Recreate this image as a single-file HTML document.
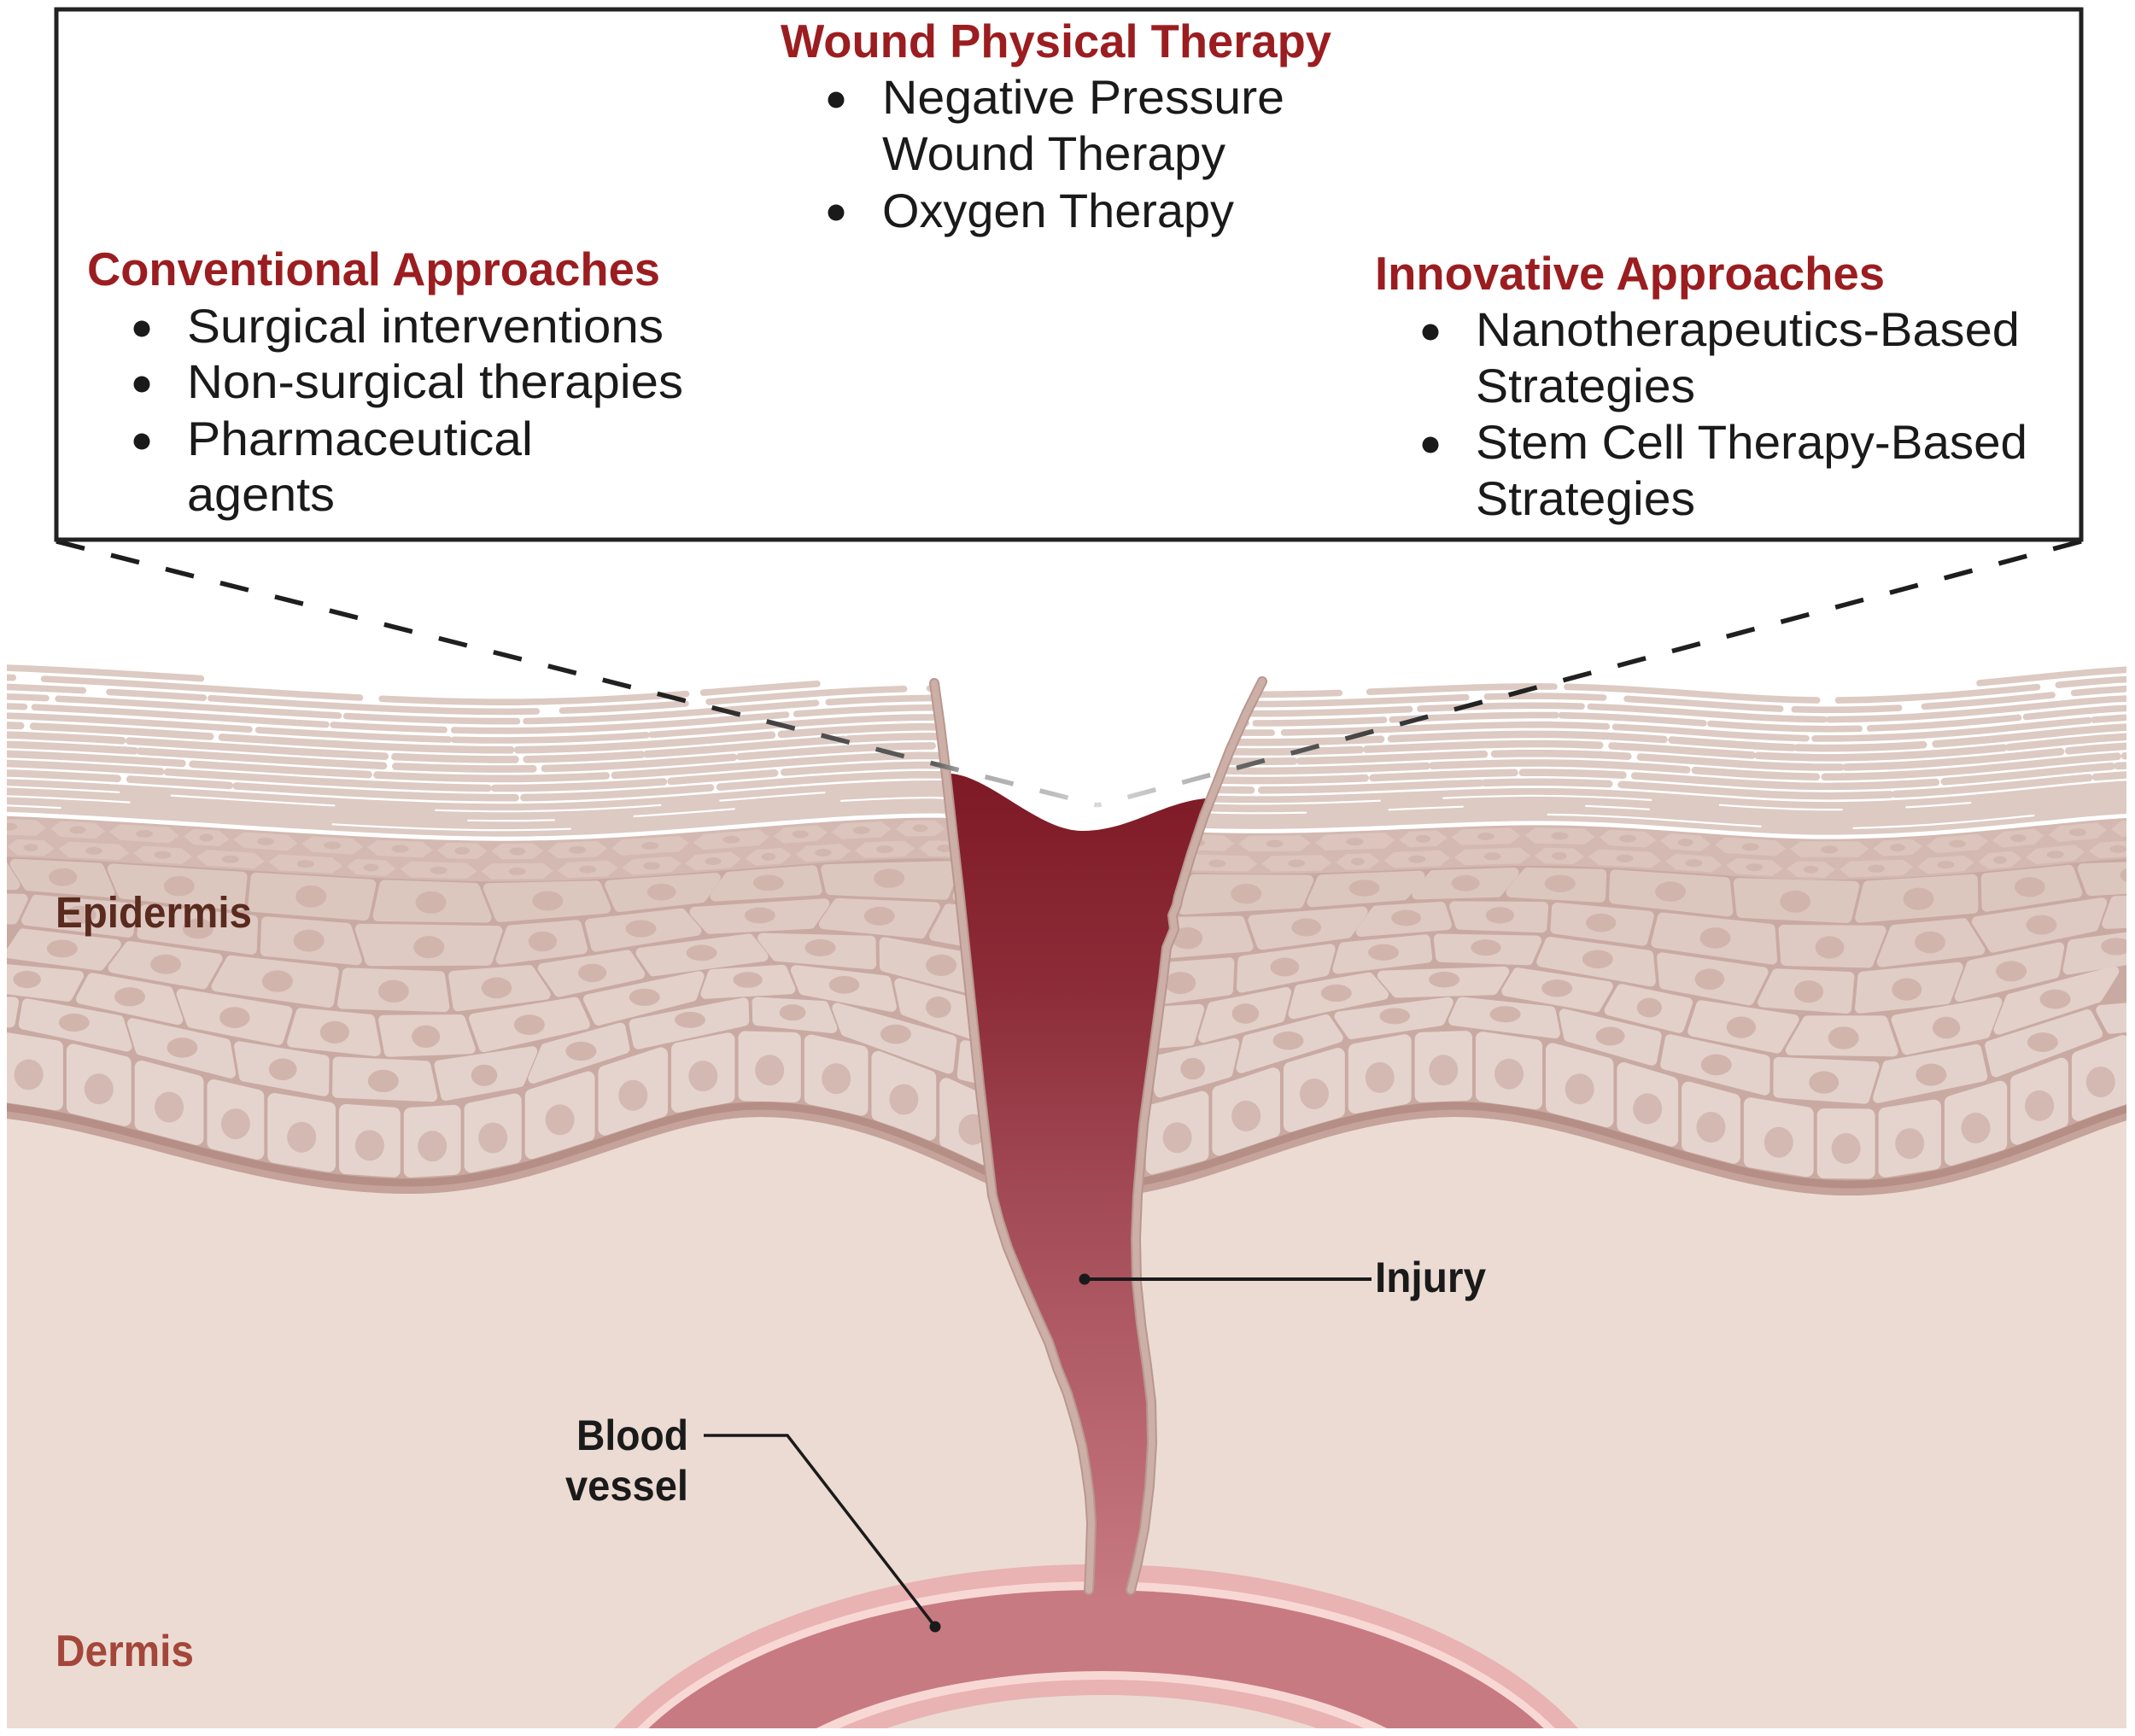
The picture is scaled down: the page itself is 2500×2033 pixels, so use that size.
<!DOCTYPE html>
<html><head><meta charset="utf-8">
<style>
html,body{margin:0;padding:0;background:#fff;width:2500px;height:2033px;overflow:hidden;}
svg{display:block;}
text{font-family:"Liberation Sans",Arial,sans-serif;}
</style></head><body>
<svg id="S" xmlns="http://www.w3.org/2000/svg" width="2500" height="2033" viewBox="0 0 2500 2033" overflow="hidden">
<defs>
 <clipPath id="skin"><rect x="8" y="700" width="2482" height="1324"/></clipPath>
 <linearGradient id="blood" gradientUnits="userSpaceOnUse" x1="0" y1="930" x2="0" y2="1875">
  <stop offset="0" stop-color="#7f1b26"/>
  <stop offset="0.25" stop-color="#8d2d39"/>
  <stop offset="0.5" stop-color="#a24a56"/>
  <stop offset="0.72" stop-color="#b35f69"/>
  <stop offset="1" stop-color="#c77a82"/>
 </linearGradient>
 <linearGradient id="dashL" gradientUnits="userSpaceOnUse" x1="66" y1="0" x2="1285" y2="0">
  <stop offset="0" stop-color="#1c1c1c"/>
  <stop offset="0.62" stop-color="#222"/>
  <stop offset="0.71" stop-color="#4a4a4a"/>
  <stop offset="0.845" stop-color="#5e5e5e"/>
  <stop offset="0.87" stop-color="#a8a8a8"/>
  <stop offset="0.955" stop-color="#bdbdbd"/>
  <stop offset="1" stop-color="#d6d6d6"/>
 </linearGradient>
 <linearGradient id="dashR" gradientUnits="userSpaceOnUse" x1="2437" y1="0" x2="1285" y2="0">
  <stop offset="0" stop-color="#1c1c1c"/>
  <stop offset="0.62" stop-color="#222"/>
  <stop offset="0.73" stop-color="#444"/>
  <stop offset="0.86" stop-color="#666"/>
  <stop offset="0.885" stop-color="#b0b0b0"/>
  <stop offset="1" stop-color="#d8d8d8"/>
 </linearGradient>
</defs>

<path id="pU" fill="none" d="M0,953 C200,960 450,985 620,982 C800,979 950,955 1100,955 L1400,972 C1550,978 1700,962 1820,964 C1950,966 2050,982 2160,980 C2300,978 2420,958 2500,955"/>
<path id="pB" fill="none" d="M0,1309 C150,1325 300,1398 480,1398 C640,1398 760,1308 890,1308 C1000,1308 1090,1355 1170,1392 L1330,1398 C1440,1380 1560,1310 1700,1308 C1850,1306 2000,1398 2160,1400 C2300,1402 2420,1330 2500,1309"/>

<g clip-path="url(#skin)">
 <!-- dermis -->
 <rect x="8" y="1200" width="2482" height="824" fill="#ebdbd3"/>
 <!-- blood vessel (arcs truncated at y=2030) -->
 <path d="M713.9,2030 A629,344 0 0 1 1853.1,2030 Z" fill="#e9b2b3"/>
 <path d="M740.2,2030 A608.6,324 0 0 1 1826.8,2030 Z" fill="#f8d8d5"/>
 <path d="M753.2,2030 A599,314 0 0 1 1813.8,2030 Z" fill="#c77a82"/>
 <path d="M944.4,2030 A450,203 0 0 1 1635.6,2030 Z" fill="#f8d8d5"/>
 <path d="M970,2030 A433,193 0 0 1 1610,2030 Z" fill="#e9b2b3"/>
 <path d="M1022.2,2030 A400,175 0 0 1 1557.8,2030 Z" fill="#ebdbd3"/>

 <!-- epidermis base -->
 <path id="pE" fill="#d8c2ba" d="M0,953 C200,960 450,985 620,982 C800,979 950,955 1100,955 L1400,972 C1550,978 1700,962 1820,964 C1950,966 2050,982 2160,980 C2300,978 2420,958 2500,955 L2500,1309 C2420,1330 2300,1402 2160,1400 C2000,1398 1850,1306 1700,1308 C1560,1310 1440,1380 1330,1398 L1170,1392 C1090,1355 1000,1308 890,1308 C760,1308 640,1398 480,1398 C300,1398 150,1325 0,1309 Z"/>
 <use href="#pU" transform="translate(0,26)" stroke="#d3b9b1" stroke-width="48"/>
 <g id="gCells"></g>
 <!-- basement band -->
 <use href="#pB" transform="translate(0,-9)" stroke="#c5a29a" stroke-width="18"/>
 <use href="#pB" transform="translate(0,-13)" stroke="#b58e86" stroke-width="9"/>

 <!-- stratum corneum -->
 <use id="fbS" href="#pU" transform="translate(0,-100)" stroke="#e7dad4" stroke-width="120"/>
 <use href="#pU" transform="translate(0,-20.5)" stroke="#dccac3" stroke-width="41"/>
 <g id="gStr"></g>
 <use href="#pU" stroke="#ffffff" stroke-width="5"/>

 <!-- wound -->
 <path fill="#ffffff" d="M1088,700 L1094,800 L1101,850 L1108,908 L1114,906 C1160,910 1215,972 1266,973 C1320,974 1360,940 1412,935 L1424,920 L1440,879 L1460,834 L1478,798 L1484,700 Z"/>
 <path fill="url(#blood)" d="M1114,906 C1160,910 1215,972 1266,973 C1320,974 1360,940 1412,935 L1405,955 L1390,1000 L1375,1050 L1373,1060 L1368,1072 L1370,1088 L1361,1110 L1357,1146 L1345,1236 L1334,1317 L1327,1400 L1325,1450 L1326,1501 L1331,1550 L1338,1600 L1343,1642 L1344,1690 L1341,1740 L1335,1790 L1327,1830 L1319,1862 L1318,1885 L1280,1885 L1280,1862 L1281,1844 L1282,1815 L1283,1783 L1281,1753 L1277,1723 L1272,1693 L1264,1662 L1255,1632 L1243,1602 L1233,1572 L1219,1541 L1201,1500 L1185,1461 L1175,1430 L1167,1400 L1152,1270 L1139,1146 L1129,1050 L1121,980 L1113,908 Z"/>
 <g fill="none" stroke-linecap="round" stroke-linejoin="round">
  <path stroke="#b9978f" stroke-width="12" d="M1094,800 L1101,850 L1108,908 L1116,980 L1124,1050 L1134,1146 L1147,1270 L1162,1400 L1170,1430 L1180,1461 L1196,1500 L1214,1541 L1228,1572 L1238,1602 L1250,1632 L1259,1662 L1267,1693 L1272,1723 L1276,1753 L1278,1783 L1277,1815 L1276,1844 L1275,1862"/>
  <path stroke="#ccafa7" stroke-width="8" d="M1094,800 L1101,850 L1108,908 L1116,980 L1124,1050 L1134,1146 L1147,1270 L1162,1400 L1170,1430 L1180,1461 L1196,1500 L1214,1541 L1228,1572 L1238,1602 L1250,1632 L1259,1662 L1267,1693 L1272,1723 L1276,1753 L1278,1783 L1277,1815 L1276,1844 L1275,1862"/>
  <path stroke="#b9978f" stroke-width="12" d="M1478,798 L1460,834 L1440,879 L1424,920 L1410,955 L1395,1000 L1380,1050 L1378,1060 L1373,1072 L1375,1088 L1366,1110 L1362,1146 L1350,1236 L1339,1317 L1332,1400 L1330,1450 L1331,1501 L1336,1550 L1343,1600 L1348,1642 L1349,1690 L1346,1740 L1340,1790 L1332,1830 L1324,1862"/>
  <path stroke="#ccafa7" stroke-width="8" d="M1478,798 L1460,834 L1440,879 L1424,920 L1410,955 L1395,1000 L1380,1050 L1378,1060 L1373,1072 L1375,1088 L1366,1110 L1362,1146 L1350,1236 L1339,1317 L1332,1400 L1330,1450 L1331,1501 L1336,1550 L1343,1600 L1348,1642 L1349,1690 L1346,1740 L1340,1790 L1332,1830 L1324,1862"/>
 </g>
</g>

<!-- dashed zoom lines -->
<line x1="66" y1="634" x2="1285" y2="943" stroke="url(#dashL)" stroke-width="5.5" stroke-dasharray="34 32"/>
<line x1="2437" y1="634" x2="1285" y2="943" stroke="url(#dashR)" stroke-width="5.5" stroke-dasharray="34 32"/>

<!-- box -->
<rect x="66" y="11" width="2371" height="621" fill="none" stroke="#222" stroke-width="5"/>

<!-- box text -->
<text x="914" y="67" font-size="55" font-weight="700" fill="#9b1d20" textLength="645" lengthAdjust="spacingAndGlyphs">Wound Physical Therapy</text>
<circle cx="979" cy="117" r="9.5" fill="#1a1a1a"/>
<text x="1033" y="133" font-size="56" fill="#1a1a1a" textLength="471" lengthAdjust="spacingAndGlyphs">Negative Pressure</text>
<text x="1033" y="199" font-size="56" fill="#1a1a1a" textLength="402" lengthAdjust="spacingAndGlyphs">Wound Therapy</text>
<circle cx="979" cy="249" r="9.5" fill="#1a1a1a"/>
<text x="1033" y="266" font-size="56" fill="#1a1a1a" textLength="412" lengthAdjust="spacingAndGlyphs">Oxygen Therapy</text>

<text x="102" y="334" font-size="55" font-weight="700" fill="#9b1d20" textLength="671" lengthAdjust="spacingAndGlyphs">Conventional Approaches</text>
<circle cx="166" cy="385" r="9.5" fill="#1a1a1a"/>
<text x="219" y="401" font-size="56" fill="#1a1a1a" textLength="558" lengthAdjust="spacingAndGlyphs">Surgical interventions</text>
<circle cx="166" cy="450" r="9.5" fill="#1a1a1a"/>
<text x="219" y="466" font-size="56" fill="#1a1a1a" textLength="581" lengthAdjust="spacingAndGlyphs">Non-surgical therapies</text>
<circle cx="166" cy="517" r="9.5" fill="#1a1a1a"/>
<text x="219" y="533" font-size="56" fill="#1a1a1a" textLength="405" lengthAdjust="spacingAndGlyphs">Pharmaceutical</text>
<text x="219" y="598" font-size="56" fill="#1a1a1a" textLength="173" lengthAdjust="spacingAndGlyphs">agents</text>

<text x="1610" y="339" font-size="55" font-weight="700" fill="#9b1d20" textLength="597" lengthAdjust="spacingAndGlyphs">Innovative Approaches</text>
<circle cx="1675" cy="389" r="9.5" fill="#1a1a1a"/>
<text x="1728" y="405" font-size="56" fill="#1a1a1a" textLength="637" lengthAdjust="spacingAndGlyphs">Nanotherapeutics-Based</text>
<text x="1728" y="471" font-size="56" fill="#1a1a1a" textLength="257" lengthAdjust="spacingAndGlyphs">Strategies</text>
<circle cx="1675" cy="521" r="9.5" fill="#1a1a1a"/>
<text x="1728" y="537" font-size="56" fill="#1a1a1a" textLength="646" lengthAdjust="spacingAndGlyphs">Stem Cell Therapy-Based</text>
<text x="1728" y="603" font-size="56" fill="#1a1a1a" textLength="257" lengthAdjust="spacingAndGlyphs">Strategies</text>

<!-- illustration labels -->
<text x="65" y="1086" font-size="51" font-weight="700" fill="#5a2a1f" textLength="230" lengthAdjust="spacingAndGlyphs">Epidermis</text>
<text x="65" y="1951" font-size="52" font-weight="700" fill="#a4463a" textLength="162" lengthAdjust="spacingAndGlyphs">Dermis</text>

<line x1="1270" y1="1498" x2="1606" y2="1498" stroke="#1a1a1a" stroke-width="4"/>
<circle cx="1270" cy="1498" r="6.5" fill="#1a1a1a"/>
<text x="1610" y="1513" font-size="50" font-weight="700" fill="#1a1a1a" textLength="130" lengthAdjust="spacingAndGlyphs">Injury</text>

<polyline points="824,1681 922,1681 1095,1905" fill="none" stroke="#1a1a1a" stroke-width="3.5" stroke-linejoin="miter"/>
<circle cx="1095" cy="1905" r="6.5" fill="#1a1a1a"/>
<text x="675" y="1698" font-size="50" font-weight="700" fill="#1a1a1a" textLength="131" lengthAdjust="spacingAndGlyphs">Blood</text>
<text x="662" y="1757" font-size="50" font-weight="700" fill="#1a1a1a" textLength="144" lengthAdjust="spacingAndGlyphs">vessel</text>
</svg>

<script>
(function(){
try{
var NS='http://www.w3.org/2000/svg';
var seed=7;
function rnd(){seed=(Math.imul(seed,1664525)+1013904223)>>>0;return seed/4294967296;}
function table(id){
 var p=document.getElementById(id),L=p.getTotalLength(),N=2500,xs=[],ys=[];
 for(var i=0;i<=N;i++){var q=p.getPointAtLength(L*i/N);xs.push(q.x);ys.push(q.y);}
 return function(x){
  if(x<=xs[0])return ys[0];if(x>=xs[N])return ys[N];
  var lo=0,hi=N;while(hi-lo>1){var m=(lo+hi)>>1;if(xs[m]<=x)lo=m;else hi=m;}
  var d=xs[hi]-xs[lo];var t=d>0?(x-xs[lo])/d:0;return ys[lo]+t*(ys[hi]-ys[lo]);
 };
}
var yu=table('pU'),yb=table('pB');
function mk(tag,a,par){var e=document.createElementNS(NS,tag);for(var k in a)e.setAttribute(k,a[k]);par.appendChild(e);return e;}
function f1(v){return (+v).toFixed(1);}
function cx8(v){return Math.max(8,Math.min(2490,v));}
var gC=document.getElementById('gCells'),gS=document.getElementById('gStr');
document.getElementById('pE').setAttribute('fill','#c9aaa2');
var fb=document.getElementById('fbS');if(fb)fb.parentNode.removeChild(fb);

function quadCell(x1,x2,low,up,s1,s2,ins,fill,nuc,nrx,nry,ndy){
 if(x2-x1<2*ins+8)return;
 var ax=x1+ins,bx=x2-ins,cx=x2-ins+s2,dx=x1+ins+s1;
 var pts=[[ax,low(ax)-ins],[bx,low(bx)-ins],[cx,up(cx)+ins],[dx,up(dx)+ins]];
 if(pts[3][1]>=pts[0][1]-2||pts[2][1]>=pts[1][1]-2)return;
 if(cx-dx<4)return;
 mk('polygon',{points:pts.map(function(p){return f1(p[0])+','+f1(p[1]);}).join(' '),fill:fill,stroke:fill,'stroke-width':2*(ins-2),'stroke-linejoin':'round'},gC);
 var mx=(x1+x2)/2+(s1+s2)/4,my=(low(mx)+up(mx))/2+ndy;
 if(nuc)mk('ellipse',{cx:f1(mx),cy:f1(my),rx:f1(nrx),ry:f1(nry),fill:nuc},gC);
}

/* basal layer */
var x=8-rnd()*70;
var bl=function(t){return yb(t)-17;},bu=function(t){return yb(t)-17-86;};
while(x<2490){var w=70+rnd()*16;
 quadCell(x,x+w,bl,bu,0,0,10,'#e4d4cd','#d3b9b1',17,18,5);
 x+=w;}

/* spinous layer */
var T=function(t){return yu(t)+50;},B=function(t){return yb(t)-17-88;};
var fills=['#e3d2cb','#e2d0c9','#e0cdc6','#decac3','#dcc7bf'];
for(var r=0;r<5;r++){(function(r){
 var low=function(t){var b=B(t),tt=T(t);return b+(tt-b)*r/5;};
 var up=function(t){var b=B(t),tt=T(t);return b+(tt-b)*(r+1)/5;};
 var bx=[],bs=[];var x=8-rnd()*140;
 while(x<2600){bx.push(x);bs.push((rnd()-0.5)*40);x+=(r<2?95:110)+rnd()*45;}
 for(var i=0;i<bx.length-1;i++){
  var x1=bx[i],x2=bx[i+1],mid=(x1+x2)/2,h=low(mid)-up(mid),w=x2-x1;
  quadCell(x1,x2,low,up,bs[i],bs[i+1],8,fills[r],'#d1b5ad',Math.min(w*0.15,18),Math.max(5,Math.min(h*0.25,14)),0);
 }
})(r);}

/* granular layer */
for(var g=0;g<2;g++){(function(g){
 var low=function(t){return yu(t)+50-g*23.5;},up=function(t){return yu(t)+50-(g+1)*23.5;};
 var x=8-rnd()*90;
 while(x<2490){var w=55+rnd()*45,i=2.5,x1=x+i,x2=x+w-i,e=12;
  var pts=[[x1,(low(x1)+up(x1))/2],[x1+e,up(x1+e)+i],[x2-e,up(x2-e)+i],[x2,(low(x2)+up(x2))/2],[x2-e,low(x2-e)-i],[x1+e,low(x1+e)-i]];
  mk('polygon',{points:pts.map(function(p){return f1(p[0])+','+f1(p[1]);}).join(' '),fill:'#dcc5bd'},gC);
  var mx=(x1+x2)/2;
  mk('ellipse',{cx:f1(mx),cy:f1((low(mx)+up(mx))/2),rx:f1(Math.min(10,w*0.14)),ry:4.5,fill:'#d2b7af'},gC);
  x+=w;}
})(g);}

/* stratum corneum strands */
var SC='#dccac3';
for(var k=0;k<12;k++){
 var xs=8-rnd()*160;
 while(xs<2490){
  var len=110+rnd()*280,gap=5+rnd()*10+(k>=9?rnd()*25:0);
  var skip=(k==11&&rnd()<0.4)||(k==10&&rnd()<0.2)||(k==9&&rnd()<0.08);
  if(!skip){var n=Math.max(2,Math.ceil(len/35)),d='';
   for(var i2=0;i2<=n;i2++){var xx=xs+len*i2/n;d+=(i2?'L':'M')+f1(xx)+','+f1(yu(xx)-48-k*11.2);}
   mk('path',{d:d,fill:'none',stroke:SC,'stroke-width':(k<6?8.6:7.6),'stroke-linecap':'round','stroke-linejoin':'round'},gS);
  }
  xs+=len+gap;
 }
}
/* thin white separators inside the solid band */
for(var k2=0;k2<3;k2++){
 var xw=8-rnd()*200;
 while(xw<2490){var len2=60+rnd()*220,gap2=20+rnd()*160;
  if(rnd()<0.6){var n2=Math.max(2,Math.ceil(len2/35)),d2='';
   for(var j=0;j<=n2;j++){var xx2=xw+len2*j/n2;d2+=(j?'L':'M')+f1(xx2)+','+f1(yu(xx2)-10-k2*11);}
   mk('path',{d:d2,fill:'none',stroke:'#ffffff','stroke-width':2.2,'stroke-linecap':'round'},gS);
  }
  xw+=len2+gap2;}
}
}catch(e){}
})();
</script>
</body></html>
